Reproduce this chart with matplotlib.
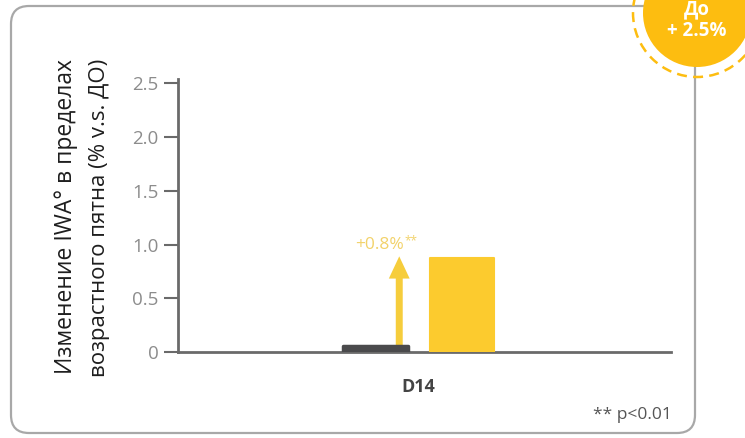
import matplotlib

matplotlib.use("Agg")
import matplotlib.pyplot as plt
from matplotlib.patches import FancyBboxPatch, Circle

plt.rcParams["font.family"] = ["Open Sans", "DejaVu Sans"]

# data
categories = ["D14"]
groups = ["До", "После"]
values = [0.06, 0.87]
offsets = [-0.18, 0.18]
delta_label = "+0.8%"
yticks = [0, 0.5, 1.0, 1.5, 2.0, 2.5]
ytick_labels = ["0", "0.5", "1.0", "1.5", "2.0", "2.5"]
badge_lines = ["До", "+ 2.5%"]

DARK = "#4a4a4c"
YELLOW = "#fccb2e"
ARROW = "#f6cd3c"
LABEL_Y = "#f2d26a"
BADGE = "#fdbd10"
TICK_FG = "#8c8c8c"
AXIS = "#6a6a6a"

W, H = 745, 438
fig = plt.figure(figsize=(W / 100, H / 100), dpi=100)

# background card + badge, in pixel coords
bg = fig.add_axes([0, 0, 1, 1], zorder=0)
bg.set_xlim(0, W)
bg.set_ylim(H, 0)
bg.axis("off")
card = FancyBboxPatch((11, 6), 684, 427, boxstyle="round,pad=0,rounding_size=18",
                      linewidth=1.6, edgecolor="#a8a8a8", facecolor="white")
bg.add_patch(card)
bg.add_patch(Circle((697, 13), 64, fill=False, edgecolor=BADGE, lw=1.8,
                    linestyle=(0, (4, 2.5))))
bg.add_patch(Circle((697, 13), 54, facecolor=BADGE, edgecolor="none"))
bg.text(697, 9, badge_lines[0], ha="center", va="center", fontsize=13.5,
        fontweight="bold", color="white")
bg.text(697, 31, badge_lines[1], ha="center", va="center", fontsize=13.5,
        fontweight="bold", color="white")
bg.text(672, 415, "** p<0.01", ha="right", va="center", fontsize=12.5,
        color="#555555")

# y label, two lines
bg.text(66, 216, "Изменение IWA° в пределах", rotation=90, ha="center",
        va="center", fontsize=16.5, color="#1e1e1e")
bg.text(100, 218, "возрастного пятна (% v.s. ДО)", rotation=90, ha="center",
        va="center", fontsize=16, color="#1e1e1e")

# main axes: x 178..671 px, y 79..352 px
ax = fig.add_axes([178 / W, 1 - 352 / H, (671 - 178) / W, (352 - 79) / H], zorder=1)
ax.patch.set_alpha(0)
ax.set_xlim(-1.0, 1.05)
ax.set_ylim(0, 2.54)

ax.bar(offsets[0], values[0], width=0.27, color=DARK, edgecolor=DARK,
       linewidth=2.5, joinstyle="round", zorder=3)
ax.bar(offsets[1], values[1], width=0.265, color=YELLOW, edgecolor=YELLOW,
       linewidth=1.5, joinstyle="round", zorder=3)

arrow_x = -0.08
ax.annotate("", xy=(arrow_x, values[1] + 0.02), xytext=(arrow_x, values[0]),
            arrowprops=dict(arrowstyle="simple,head_length=1.6,head_width=1.5,tail_width=0.5",
                            facecolor=ARROW, edgecolor="none", lw=0,
                            mutation_scale=10, shrinkA=0, shrinkB=0),
            zorder=2)
ax.text(-0.06, 1.0, delta_label, ha="right", va="center",
        fontsize=12.5, color=LABEL_Y)
ax.text(-0.06, 1.03, "**", ha="left", va="center", fontsize=8.5,
        color=LABEL_Y)

for side in ["top", "right"]:
    ax.spines[side].set_visible(False)
for side in ["left", "bottom"]:
    ax.spines[side].set_color(AXIS)
    ax.spines[side].set_linewidth(2)

ax.set_yticks(yticks)
ax.set_yticklabels(ytick_labels)
ax.tick_params(axis="y", length=10, width=1.5, color=AXIS, labelcolor=TICK_FG,
               labelsize=13.5, pad=4)
ax.set_xticks([0])
ax.set_xticklabels(categories, fontweight="bold")
ax.tick_params(axis="x", length=0, labelcolor="#444444", labelsize=13, pad=19)

fig.savefig("out.png", dpi=100)
